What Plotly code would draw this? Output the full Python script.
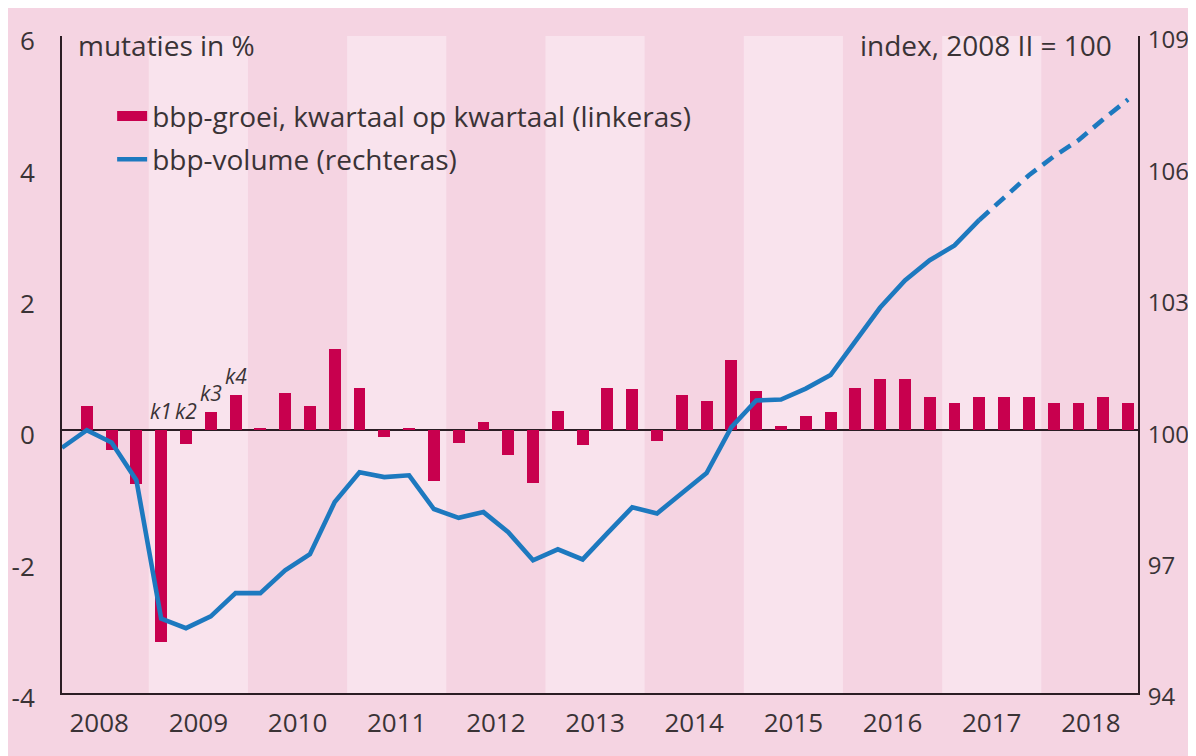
import plotly.graph_objects as go

# ---------------- data ----------------
years = [str(y) for y in range(2008, 2019)]
quarters = [f"{y}Q{q}" for y in range(2008, 2019) for q in range(1, 5)]  # 2008Q1 .. 2018Q4

# bbp-groei, kwartaal op kwartaal (%), 2008Q2 .. 2018Q4
growth = [0.37, -0.30, -0.82,
          -3.22, -0.21, 0.28, 0.53,
          0.04, 0.56, 0.37, 1.23,
          0.65, -0.10, 0.04, -0.77,
          -0.19, 0.13, -0.38, -0.80,
          0.29, -0.22, 0.65, 0.62,
          -0.16, 0.53, 0.44, 1.07,
          0.59, 0.07, 0.22, 0.28,
          0.65, 0.78, 0.78, 0.50,
          0.41, 0.50, 0.50, 0.50,
          0.41, 0.41, 0.51, 0.41]

# bbp-volume index (2008 II = 100), 2008Q1 .. 2018Q4
volume = [99.60, 100.00, 99.72, 98.86,
          95.70, 95.48, 95.75, 96.28,
          96.28, 96.80, 97.17, 98.36,
          99.04, 98.93, 98.97, 98.20,
          98.00, 98.13, 97.67, 97.03,
          97.28, 97.05, 97.65, 98.24,
          98.10, 98.56, 99.02, 100.07,
          100.68, 100.70, 100.95, 101.26,
          102.05, 102.80, 103.42, 103.88,
          104.22, 104.80, 105.30, 105.82,
          106.25, 106.62, 107.10, 107.55]
last_realised = 37  # 2017Q2: solid up to here, dashed afterwards

k_labels = ["k1", "k2", "k3", "k4"]
k_quarters = ["2009Q1", "2009Q2", "2009Q3", "2009Q4"]

left_ticks = [-4, -2, 0, 2, 4, 6]
right_ticks = [94, 97, 100, 103, 106, 109]

bar_name = "bbp-groei, kwartaal op kwartaal (linkeras)"
line_name = "bbp-volume (rechteras)"

# ---------------- styling ----------------
BG = "#f5d4e2"
BAND = "#f9e3ed"
BAR = "#c8004e"
LINE = "#1d79bf"
TXT = "#3a3336"
AX = "#2b1d24"
FONT = "Open Sans"
FS = 28
TFS = 26

idx = list(range(len(quarters)))
bar_x = idx[1:]

fig = go.Figure()

fig.add_trace(go.Bar(
    x=bar_x, y=growth, marker=dict(color=BAR, line=dict(width=0)), width=0.48,
    name=bar_name, yaxis="y", showlegend=False, legendgroup="a"))

# legend swatch for the bars (wide rectangle, as in the original)
fig.add_trace(go.Scatter(
    x=[None], y=[None], mode="lines", line=dict(color=BAR, width=14),
    name=bar_name, legendgroup="a", yaxis="y"))

fig.add_trace(go.Scatter(
    x=idx[:last_realised + 1], y=volume[:last_realised + 1], mode="lines",
    line=dict(color=LINE, width=4.6), name=line_name, yaxis="y2", legendgroup="b"))

fig.add_trace(go.Scatter(
    x=idx[last_realised:], y=volume[last_realised:], mode="lines",
    line=dict(color=LINE, width=4.6, dash="13px,8px"), showlegend=False, yaxis="y2",
    legendgroup="b"))

# alternating lighter year bands (odd years)
shapes = []
for i, y in enumerate(years):
    if i % 2 == 1:
        shapes.append(dict(type="rect", xref="x", yref="paper", x0=4 * i - 0.5, x1=4 * i + 3.5,
                           y0=0, y1=1, fillcolor=BAND, line=dict(width=0), layer="below"))

annotations = [
    dict(text="mutaties in %", xref="paper", yref="paper", x=0.0126, y=0.986,
         xanchor="left", yanchor="middle", showarrow=False, font=dict(size=FS, color=TXT)),
    dict(text="index, 2008 II = 100", xref="paper", yref="paper", x=0.978, y=0.986,
         xanchor="right", yanchor="middle", showarrow=False, font=dict(size=FS, color=TXT)),
]
for lab, q in zip(k_labels, k_quarters):
    qi = quarters.index(q)
    val = growth[qi - 1]
    annotations.append(dict(text=f"<i>{lab}</i>", x=qi, y=max(0, val), xref="x", yref="y",
                            xanchor="center", yanchor="bottom", yshift=3, showarrow=False,
                            font=dict(size=21, color=TXT)))

fig.update_layout(
    width=1196, height=756,
    margin=dict(l=54, r=66, t=28, b=71, autoexpand=False),
    paper_bgcolor=BG, plot_bgcolor=BG,
    font=dict(family=FONT, color=TXT, size=FS),
    showlegend=True,
    legend=dict(x=0.0466, y=0.916, xanchor="left", yanchor="top", bgcolor="rgba(0,0,0,0)",
                font=dict(size=FS, color=TXT), itemwidth=30, tracegroupgap=4,
                traceorder="grouped"),
    bargap=0,
    xaxis=dict(range=[0, 43.4], tickvals=[4 * i + 1.5 for i in range(len(years))], ticktext=years,
               showgrid=False, zeroline=False, showline=True, linecolor=AX, linewidth=2,
               automargin=False, ticks="", ticklabelstandoff=6,
               tickfont=dict(size=TFS, color=TXT)),
    yaxis=dict(range=[-4, 6], tickvals=left_ticks, ticktext=[str(v) for v in left_ticks],
               showgrid=False, zeroline=True, zerolinecolor=AX, zerolinewidth=2,
               showline=True, linecolor=AX, linewidth=2, automargin=False, ticks="",
               ticklabelstandoff=20, ticklabelshift=5, tickfont=dict(size=TFS, color=TXT)),
    yaxis2=dict(range=[94, 109], tickvals=right_ticks, ticktext=[str(v) for v in right_ticks],
                overlaying="y", side="right", showgrid=False, zeroline=False,
                showline=True, linecolor=AX, linewidth=2, automargin=False, ticks="",
                ticklabelstandoff=3, ticklabelshift=4, tickfont=dict(size=24, color=TXT)),
    shapes=shapes,
    annotations=annotations,
)

fig.write_html("out.html")
